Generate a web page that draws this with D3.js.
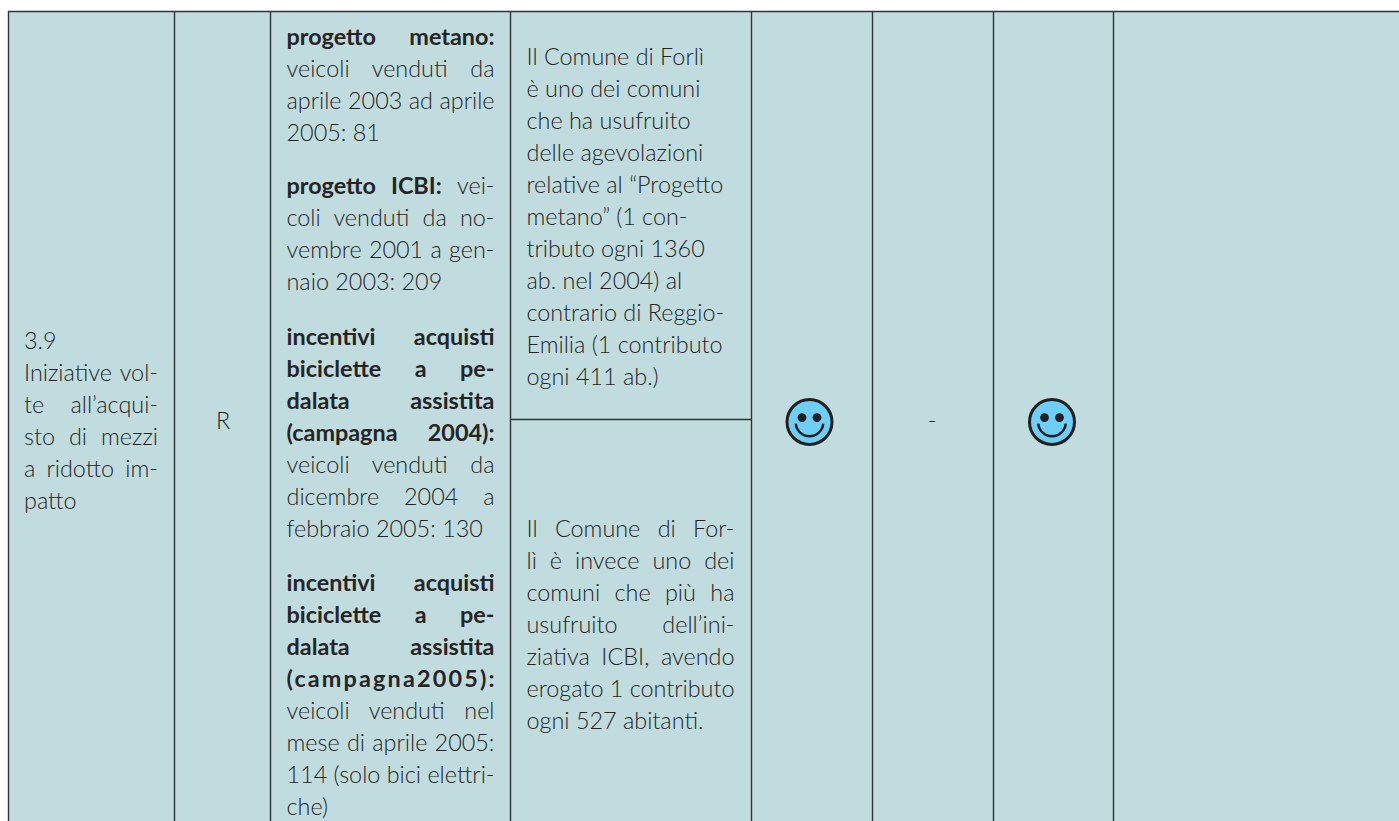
<!DOCTYPE html>
<html>
<head>
<meta charset="utf-8">
<script src="https://cdn.jsdelivr.net/npm/d3@7"></script>
<style>
html, body { margin: 0; padding: 0; background: #fff; }
svg { display: block; }
text { font-family: Lato, "Open Sans", sans-serif; font-size: 23.4px; fill: #262425; }
</style>
</head>
<body>
<svg id="table"></svg>
<script>
const width = 1399;
const height = 821;
const svg = d3.select("#table").attr("width", width).attr("height", height);

const columnEdges = [8, 174, 270, 510, 751, 872, 993, 1113, 1399];
const tableTop = 11;
const rowSplit = 419;
const lineHeight = 32;
const cellFill = "#c0dcde";
const lineColor = "#333";

// b = bold run, j = justified line
const titleLines = [
    { runs: [{ t: "3.9" }] },
    { runs: [{ t: "Iniziative vol-" }], j: 1 },
    { runs: [{ t: "te all’acqui-" }], j: 1 },
    { runs: [{ t: "sto di mezzi" }], j: 1 },
    { runs: [{ t: "a ridotto im-" }], j: 1 },
    { runs: [{ t: "patto" }] }
];

const metanoLines = [
    { runs: [{ t: "progetto metano:", b: 1 }], j: 1 },
    { runs: [{ t: "veicoli venduti da" }], j: 1 },
    { runs: [{ t: "aprile 2003 ad aprile" }], j: 1 },
    { runs: [{ t: "2005: 81" }] }
];
const icbiLines = [
    { runs: [{ t: "progetto ICBI:", b: 1 }, { t: " vei-" }], j: 1 },
    { runs: [{ t: "coli venduti da no-" }], j: 1 },
    { runs: [{ t: "vembre 2001 a gen-" }], j: 1 },
    { runs: [{ t: "naio 2003: 209" }] }
];
const campagna2004Lines = [
    { runs: [{ t: "incentivi acquisti", b: 1 }], j: 1 },
    { runs: [{ t: "biciclette a pe-", b: 1 }], j: 1 },
    { runs: [{ t: "dalata assistita", b: 1 }], j: 1 },
    { runs: [{ t: "(campagna 2004):", b: 1 }], j: 1 },
    { runs: [{ t: "veicoli venduti da" }], j: 1 },
    { runs: [{ t: "dicembre 2004 a" }], j: 1 },
    { runs: [{ t: "febbraio 2005: 130" }] }
];
const campagna2005Lines = [
    { runs: [{ t: "incentivi acquisti", b: 1 }], j: 1 },
    { runs: [{ t: "biciclette a pe-", b: 1 }], j: 1 },
    { runs: [{ t: "dalata assistita", b: 1 }], j: 1 },
    { runs: [{ t: "(campagna2005):", b: 1 }], j: 1 },
    { runs: [{ t: "veicoli venduti nel" }], j: 1 },
    { runs: [{ t: "mese di aprile 2005:" }], j: 1 },
    { runs: [{ t: "114 (solo bici elettri-" }], j: 1 },
    { runs: [{ t: "che)" }] }
];
const forliMetanoLines = [
    "Il Comune di Forlì", "è uno dei comuni", "che ha usufruito", "delle agevolazioni",
    "relative al “Progetto", "metano” (1 con-", "tributo ogni 1360", "ab. nel 2004) al",
    "contrario di Reggio-", "Emilia (1 contributo", "ogni 411 ab.)"
].map(t => ({ runs: [{ t }] }));
const forliIcbiLines = [
    { runs: [{ t: "Il Comune di For-" }], j: 1 },
    { runs: [{ t: "lì è invece uno dei" }], j: 1 },
    { runs: [{ t: "comuni che più ha" }], j: 1 },
    { runs: [{ t: "usufruito dell’ini-" }], j: 1 },
    { runs: [{ t: "ziativa ICBI, avendo" }], j: 1 },
    { runs: [{ t: "erogato 1 contributo" }], j: 1 },
    { runs: [{ t: "ogni 527 abitanti." }] }
];

// background and grid
svg.append("rect")
    .attr("x", columnEdges[0]).attr("y", tableTop)
    .attr("width", width - columnEdges[0]).attr("height", height - tableTop)
    .attr("fill", cellFill);

svg.selectAll(".col")
    .data(columnEdges.slice(0, -1))
    .enter()
    .append("line")
    .attr("class", "col")
    .attr("x1", d => d + 0.5).attr("x2", d => d + 0.5)
    .attr("y1", tableTop).attr("y2", height)
    .attr("stroke", lineColor).attr("stroke-width", 1.4);

svg.append("line")
    .attr("x1", columnEdges[0]).attr("x2", width)
    .attr("y1", tableTop + 0.5).attr("y2", tableTop + 0.5)
    .attr("stroke", lineColor).attr("stroke-width", 1.5);

svg.append("line")
    .attr("x1", columnEdges[3]).attr("x2", columnEdges[4])
    .attr("y1", rowSplit + 0.5).attr("y2", rowSplit + 0.5)
    .attr("stroke", lineColor).attr("stroke-width", 1.3);

function drawLines(lines, x, textWidth, firstBaseline) {
    const rows = svg.append("g")
        .selectAll("text")
        .data(lines)
        .enter()
        .append("text")
        .attr("x", x)
        .attr("y", (d, i) => firstBaseline + i * lineHeight);

    rows.selectAll("tspan")
        .data(d => d.runs)
        .enter()
        .append("tspan")
        .attr("font-weight", d => d.b ? 700 : 300)
        .attr("xml:space", "preserve")
        .text(d => d.t);

    // stretch the word gaps so justified lines fill the column
    rows.each(function (d) {
        if (!d.j) return;
        const full = d.runs.map(r => r.t).join("");
        const gaps = full.split(" ").length - 1;
        const extra = textWidth - this.getComputedTextLength();
        if (gaps) d3.select(this).attr("word-spacing", extra / gaps);
        else d3.select(this).attr("letter-spacing", extra / (full.length - 1));
    });
}

drawLines(titleLines, 24, 134, 349);
drawLines(metanoLines, 286.5, 208, 44.7);
drawLines(icbiLines, 286.5, 208, 194);
drawLines(campagna2004Lines, 286.5, 208, 345);
drawLines(campagna2005Lines, 286.5, 208, 591);
drawLines(forliMetanoLines, 526.5, 208, 65);
drawLines(forliIcbiLines, 526.5, 208, 537);

svg.append("text").attr("x", 223).attr("y", 429).attr("text-anchor", "middle").attr("font-weight", 300).text("R");
svg.append("text").attr("x", 932).attr("y", 429).attr("text-anchor", "middle").attr("font-weight", 300).text("-");

// smiley marks
const smileyCenters = [809.5, 1052];
const smileArc = d3.arc()
    .innerRadius(12.5).outerRadius(15)
    .startAngle(Math.PI / 2 + 0.08).endAngle(Math.PI * 1.5 - 0.08);

const smiley = svg.selectAll(".smiley")
    .data(smileyCenters)
    .enter()
    .append("g")
    .attr("class", "smiley")
    .attr("transform", d => "translate(" + d + ",422)");

smiley.append("circle").attr("r", 22.5).attr("fill", "#6dcff6").attr("stroke", "#231f20").attr("stroke-width", 3);
smiley.append("circle").attr("cx", -7.5).attr("cy", -4.4).attr("r", 4.4).attr("fill", "#231f20");
smiley.append("circle").attr("cx", 7.5).attr("cy", -4.4).attr("r", 4.4).attr("fill", "#231f20");
smiley.append("path").attr("d", smileArc).attr("transform", "translate(0,0.5)").attr("fill", "#231f20");
</script>
</body>
</html>
